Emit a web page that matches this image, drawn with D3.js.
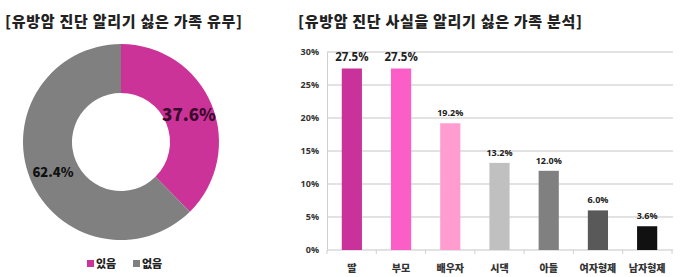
<!DOCTYPE html>
<html>
<head>
<meta charset="utf-8">
<script src="https://cdn.jsdelivr.net/npm/d3@7"></script>
<style>
  body { margin: 0; background: #fff; }
  svg text { font-family: "Noto Sans CJK KR", "Noto Sans", sans-serif; }
</style>
</head>
<body>
<svg id="chart" width="680" height="277"></svg>
<script>
// donut data
const donutLabels = ["있음", "없음"];
const donutValues = [37.6, 62.4];
const donutColors = ["#cc3399", "#808080"];

// bar data
const barCategories = ["딸", "부모", "배우자", "시댁", "아들", "여자형제", "남자형제"];
const barValues = [27.5, 27.5, 19.2, 13.2, 12.0, 6.0, 3.6];
const barColors = ["#c8329a", "#fc5ec8", "#ff9dd0", "#c0c0c0", "#808080", "#595959", "#111111"];
const yTicks = [0, 5, 10, 15, 20, 25, 30];

const svg = d3.select("#chart");

// ----- titles (stretched to the reference widths)
svg.append("text")
  .attr("x", 5).attr("y", 27)
  .attr("font-size", 15).attr("font-weight", 900).attr("fill", "#222")
  .attr("textLength", 237).attr("lengthAdjust", "spacing")
  .text("[유방암 진단 알리기 싫은 가족 유무]");

svg.append("text")
  .attr("x", 298).attr("y", 27)
  .attr("font-size", 15).attr("font-weight", 900).attr("fill", "#222")
  .attr("textLength", 284).attr("lengthAdjust", "spacing")
  .text("[유방암 진단 사실을 알리기 싫은 가족 분석]");

// ----- donut
const cx = 121, cy = 142, rOuter = 98, rInner = 49;
const pie = d3.pie().sort(null).value(d => d);
const arc = d3.arc().innerRadius(rInner).outerRadius(rOuter);
const g = svg.append("g").attr("transform", `translate(${cx},${cy})`);

g.selectAll("path")
  .data(pie(donutValues))
  .enter()
  .append("path")
  .attr("d", arc)
  .attr("fill", (d, i) => donutColors[i]);

// slice labels
g.append("text")
  .datum(pie(donutValues)[0])
  .attr("x", 68).attr("y", -21)
  .attr("text-anchor", "middle")
  .attr("font-size", 17).attr("font-weight", 900).attr("fill", "#3a0b2c")
  .text(d => d.data.toFixed(1) + "%");

g.append("text")
  .datum(pie(donutValues)[1])
  .attr("x", -68).attr("y", 35)
  .attr("text-anchor", "middle")
  .attr("font-size", 13).attr("font-weight", 900).attr("fill", "#111")
  .text(d => d.data.toFixed(1) + "%");

// legend
const legend = svg.append("g").attr("transform", "translate(87,259)");
const legItem = legend.selectAll("g")
  .data(donutLabels)
  .enter()
  .append("g")
  .attr("transform", (d, i) => `translate(${i * 46},0)`);
legItem.append("rect")
  .attr("width", 7).attr("height", 7)
  .attr("y", 1)
  .attr("fill", (d, i) => donutColors[i]);
legItem.append("text")
  .attr("x", 9).attr("y", 9)
  .attr("font-size", 11).attr("font-weight", 900).attr("fill", "#222")
  .text(d => d);

// ----- bar chart
const x = d3.scaleBand()
  .domain(barCategories)
  .range([327, 672])
  .paddingInner(0.59)
  .paddingOuter(0.3);

const y = d3.scaleLinear()
  .domain([0, 30])
  .range([250, 52]);

// gridlines
svg.append("g")
  .selectAll("line")
  .data(yTicks)
  .enter()
  .append("line")
  .attr("x1", 327).attr("x2", 673)
  .attr("y1", d => y(d)).attr("y2", d => y(d))
  .attr("stroke", "#d9d9d9").attr("stroke-width", 1.5);

// y axis
const yAxis = svg.append("g")
  .attr("transform", "translate(327,0)")
  .call(d3.axisLeft(y).tickValues(yTicks).tickSize(0).tickPadding(8).tickFormat(d => d + "%"));
yAxis.select(".domain").attr("stroke", "#d0d0d0");
yAxis.selectAll("text")
  .attr("font-size", 9).attr("font-weight", "bold").attr("fill", "#333")
  .style("font-family", "'Open Sans', sans-serif");

// x axis ticks between categories
const xBoundaries = d3.range(barCategories.length + 1).map(i => 327 + i * (345 / barCategories.length));
svg.append("g")
  .selectAll("line")
  .data(xBoundaries)
  .enter()
  .append("line")
  .attr("x1", d => d).attr("x2", d => d)
  .attr("y1", 250).attr("y2", 254)
  .attr("stroke", "#d0d0d0");

// bars
svg.append("g")
  .selectAll("rect")
  .data(barValues)
  .enter()
  .append("rect")
  .attr("x", (d, i) => x(barCategories[i]))
  .attr("y", d => y(d))
  .attr("width", x.bandwidth())
  .attr("height", d => y(0) - y(d))
  .attr("fill", (d, i) => barColors[i]);

// bar value labels
svg.append("g")
  .selectAll("text")
  .data(barValues)
  .enter()
  .append("text")
  .attr("x", (d, i) => x(barCategories[i]) + x.bandwidth() / 2)
  .attr("y", d => d > 25 ? y(30) + 9 : y(d) - 7)
  .attr("text-anchor", "middle")
  .attr("font-size", d => d > 25 ? 11.5 : 9)
  .attr("font-weight", "bold")
  .attr("fill", "#222")
  .style("font-family", "'Open Sans', sans-serif")
  .text(d => d.toFixed(1) + "%");

// category labels
svg.append("g")
  .selectAll("text")
  .data(barCategories)
  .enter()
  .append("text")
  .attr("x", d => x(d) + x.bandwidth() / 2)
  .attr("y", 272)
  .attr("text-anchor", "middle")
  .attr("font-size", 10).attr("font-weight", 900).attr("fill", "#333")
  .text(d => d);
</script>
</body>
</html>
